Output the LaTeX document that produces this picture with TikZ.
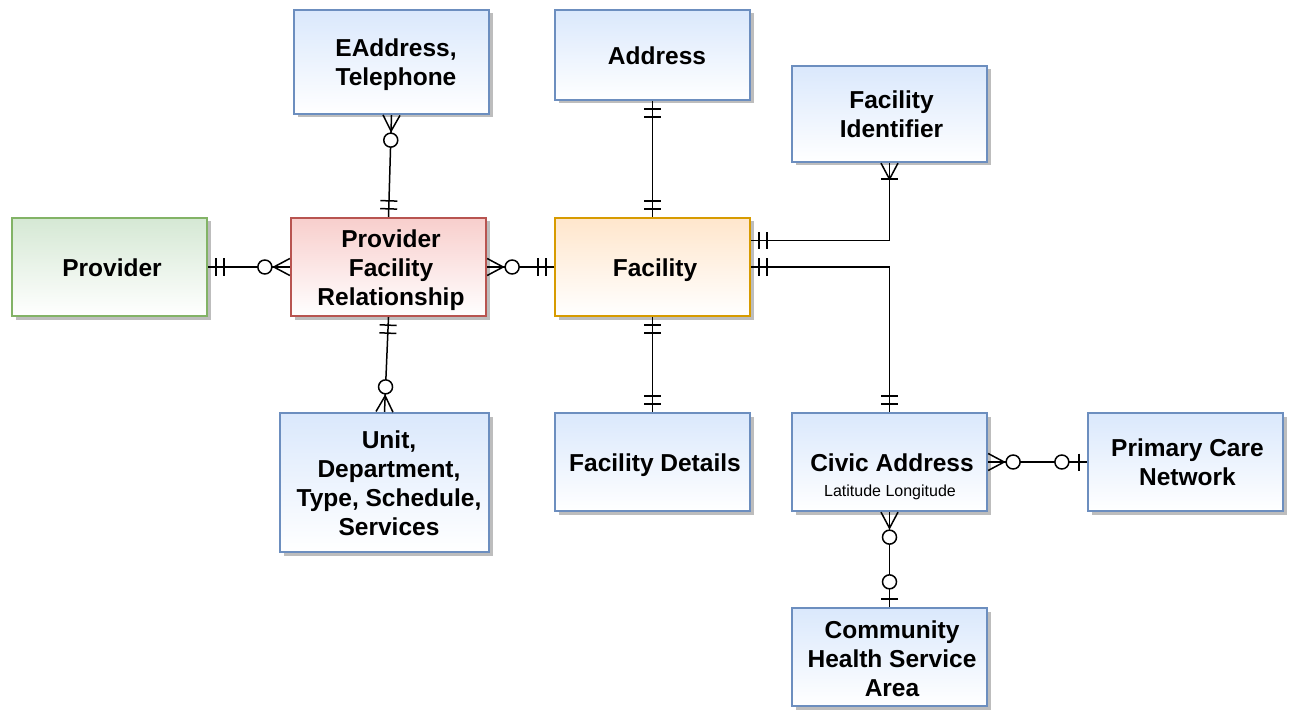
\documentclass[tikz,border=0pt]{standalone}
\usepackage{fontspec}
\setmainfont{Liberation Sans}
\usetikzlibrary{shadows,decorations.markings,calc}
\definecolor{blueT}{HTML}{DAE8FC}
\definecolor{blueB}{HTML}{6C8EBF}
\definecolor{greenT}{HTML}{D5E8D4}
\definecolor{greenB}{HTML}{82B366}
\definecolor{redT}{HTML}{F8CECC}
\definecolor{redB}{HTML}{B85450}
\definecolor{orangeT}{HTML}{FFE6CC}
\definecolor{orangeB}{HTML}{D79B00}
\newcommand\lstr{\rule[-6pt]{0pt}{29pt}}
\tikzset{
  ent/.style={draw, line width=2.3pt, inner sep=0pt, minimum width=195pt, minimum height=98pt,
    drop shadow={shadow xshift=3.5pt,shadow yshift=-3.5pt,fill=black!26,opacity=1}},
  bluebox/.style={ent, draw=blueB, top color=blueT, bottom color=white},
  greenbox/.style={ent, draw=greenB, top color=greenT, bottom color=white},
  redbox/.style={ent, draw=redB, top color=redT, bottom color=white},
  orangebox/.style={ent, draw=orangeB, top color=orangeT, bottom color=white},
  lbl/.style={font=\fontsize{24.5}{29}\selectfont\bfseries, align=center, inner sep=0pt},
  sublbl/.style={font=\fontsize{16}{19}\selectfont, inner sep=0pt, anchor=base},
  conn/.style={draw=black, line width=1.5pt},
  tk/.style={line width=1.5pt, draw=black},
  sOne/.style={postaction={decorate,decoration={markings,
     mark=at position 8pt with {\draw[tk] (0pt,-8.5pt)--(0pt,8.5pt);},
     mark=at position 16pt with {\draw[tk] (0pt,-8.5pt)--(0pt,8.5pt);}}}},
  eOne/.style={postaction={decorate,decoration={markings,
     mark=at position -8pt with {\draw[tk] (0pt,-8.5pt)--(0pt,8.5pt);},
     mark=at position -16pt with {\draw[tk] (0pt,-8.5pt)--(0pt,8.5pt);}}}},
  sZM/.style={postaction={decorate,decoration={markings,
     mark=at position 0 with {\draw[tk] (0pt,8.5pt)--(16pt,0pt)--(0pt,-8.5pt);
        \draw[tk,fill=white] (25pt,0pt) circle (7pt);}}}},
  eZM/.style={postaction={decorate,decoration={markings,
     mark=at position 1 with {\draw[tk] (0pt,8.5pt)--(-16pt,0pt)--(0pt,-8.5pt);
        \draw[tk,fill=white] (-25pt,0pt) circle (7pt);}}}},
  eZO/.style={postaction={decorate,decoration={markings,
     mark=at position 1 with {\draw[tk] (-8pt,8.5pt)--(-8pt,-8.5pt);
        \draw[tk,fill=white] (-25pt,0pt) circle (7pt);}}}},
  eOM/.style={postaction={decorate,decoration={markings,
     mark=at position 1 with {\draw[tk] (0pt,8.5pt)--(-16pt,0pt)--(0pt,-8.5pt);
        \draw[tk] (-16pt,8.5pt)--(-16pt,-8.5pt);}}}},
}
\begin{document}
\begin{tikzpicture}[x=1pt,y=-1pt]
\fill[white] (0,0) rectangle (1296,722);
\useasboundingbox (0,0) rectangle (1296,722);

% boxes
\node[bluebox, minimum height=104pt] (eaddr) at (391.5,62) {};
\node[bluebox, minimum height=90pt] (address) at (652.5,55) {};
\node[bluebox, minimum height=96pt] (facid) at (889.5,114) {};
\node[greenbox] (provider) at (109.5,267) {};
\node[redbox] (pfr) at (388.5,267) {};
\node[orangebox] (facility) at (652.5,267) {};
\node[bluebox, minimum width=209pt, minimum height=139pt] (unit) at (384.5,482.5) {};
\node[bluebox] (fdet) at (652.5,462) {};
\node[bluebox] (civic) at (889.5,462) {};
\node[bluebox] (pcn) at (1185.5,462) {};
\node[bluebox] (chsa) at (889.5,657) {};

% labels
\node[lbl] (eaddrT) at (396,62.5) {\lstr EAddress,\\\lstr Telephone};
\node[lbl] (addressT) at (657,56) {\lstr Address};
\node[lbl] (facidT) at (891.5,115) {\lstr Facility\\\lstr Identifier};
\node[lbl] (providerT) at (112,268) {\lstr Provider};
\node[lbl] (pfrT) at (391,268) {\lstr Provider\\\lstr Facility\\\lstr Relationship};
\node[lbl] (facilityT) at (655,268) {\lstr Facility};
\node[lbl] (unitT) at (389,483) {\lstr Unit,\\\lstr Department,\\\lstr Type, Schedule,\\\lstr Services};
\node[lbl] (fdetT) at (655,463) {\lstr Facility Details};
\node[lbl] (civicT) at (892,463) {\lstr Civic Address};
\node[sublbl] (civicS) at (890,496.7) {Latitude Longitude};
\node[lbl] (pcnT) at (1187.5,462.5) {\lstr Primary Care\\\lstr Network};
\node[lbl] (chsaT) at (892,658.5) {\lstr Community\\\lstr Health Service\\\lstr Area};

% connectors
\draw[conn,sZM,eOne] (eaddr.south) -- (pfr.north);
\draw[conn,sOne,eZM] (provider.east) -- (pfr.west);
\draw[conn,sZM,eOne] (pfr.east) -- (facility.west);
\draw[conn,sOne,eZM] (pfr.south) -- (unit.north);
\draw[conn,sOne,eOne] (address.south) -- (facility.north);
\draw[conn,sOne,eOne] (facility.south) -- (fdet.north);
\draw[conn,sOne,eOM] ([yshift=26.5pt]facility.east) -| (facid.south);
\draw[conn,sOne,eOne] (facility.east) -| (civic.north);
\draw[conn,sZM,eZO] (civic.east) -- (pcn.west);
\draw[conn,sZM,eZO] (civic.south) -- (chsa.north);
\end{tikzpicture}
\end{document}
